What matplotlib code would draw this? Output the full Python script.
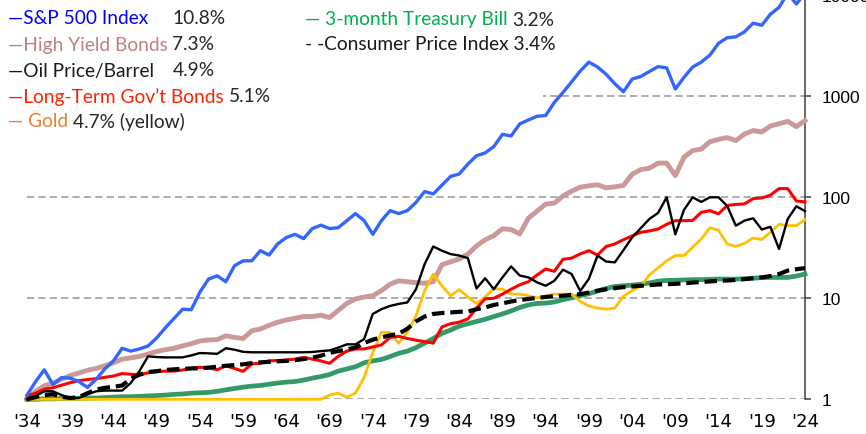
import matplotlib
matplotlib.use("Agg")
import matplotlib.pyplot as plt
from matplotlib.patches import Rectangle
from matplotlib.ticker import FixedLocator, NullLocator

# growth of $1 invested at the start of 1934
years = list(range(1934, 2025))

sp500 = [
    1.1, 1.5, 1.96, 1.4, 1.64, 1.62, 1.5, 1.31, 1.58, 2.0,
    2.4, 3.2, 3.0, 3.15, 3.37, 4.05, 5.1, 6.3, 7.8, 7.7,
    11.5, 15.5, 16.7, 14.6, 21, 23.5, 23.5, 29.6, 26.8, 34.6,
    40, 43, 39, 49, 53, 49, 50, 58.7, 69, 58.7,
    43, 58.7, 73.8, 69, 73.8, 89, 114, 108, 132, 161,
    170, 213, 258, 275, 318, 420, 405, 533, 583, 634,
    645, 870, 1090, 1390, 1780, 2180, 1950, 1650, 1330, 1110,
    1480, 1570, 1760, 1970, 1910, 1180, 1540, 1950, 2180, 2560,
    3350, 3800, 3880, 4350, 5300, 5050, 6500, 7600, 10500, 8200,
    10500,
]

high_yield = [
    1.0, 1.2, 1.36, 1.45, 1.58, 1.72, 1.82, 1.94, 2.02, 2.15,
    2.3, 2.5, 2.57, 2.66, 2.8, 2.98, 3.1, 3.2, 3.38, 3.55,
    3.78, 3.87, 3.9, 4.25, 4.1, 4.0, 4.77, 4.97, 5.4, 5.8,
    6.1, 6.35, 6.6, 6.6, 6.8, 6.45, 7.6, 8.9, 9.85, 10.3,
    10.6, 11.9, 13.8, 14.9, 14.6, 14.3, 14.1, 14.6, 21.5, 23.0,
    24.5, 27.4, 33, 38, 41.7, 48.8, 48, 43.3, 62, 73,
    85.6, 87.6, 103, 115, 126, 130, 133, 124, 127, 131,
    169, 188, 194, 218, 218, 164, 250, 290, 300, 355,
    375, 390, 364, 423, 458, 443, 509, 535, 565, 500,
    575,
]

oil = [
    1.0, 1.08, 1.2, 1.2, 1.1, 1.03, 1.03, 1.12, 1.2, 1.22,
    1.22, 1.22, 1.45, 1.9, 2.66, 2.62, 2.6, 2.6, 2.6, 2.72,
    2.87, 2.85, 2.82, 3.2, 3.1, 2.95, 2.92, 2.92, 2.92, 2.92,
    2.92, 2.92, 2.92, 2.94, 3.0, 3.05, 3.25, 3.5, 3.5, 3.95,
    7.0, 7.8, 8.4, 8.8, 9.1, 12.3, 21.8, 32.6, 29.6, 27.4,
    26.5, 25, 12.5, 15.8, 12.3, 16.1, 20.7, 16.8, 16.1, 14.4,
    13.3, 14.9, 19.2, 17.4, 11.8, 15.6, 26.5, 23.1, 22.7, 30,
    40, 49.5, 61, 70, 100, 43, 75, 100, 90, 100,
    100, 82, 52.4, 58.7, 62, 48, 51, 30.8, 61, 81.5,
    73,
]

lt_gov_bonds = [
    1.08, 1.15, 1.26, 1.3, 1.38, 1.46, 1.53, 1.57, 1.6, 1.65,
    1.7, 1.8, 1.77, 1.75, 1.83, 1.88, 1.9, 1.9, 1.95, 2.02,
    2.07, 2.05, 1.96, 2.15, 2.02, 1.89, 2.24, 2.28, 2.4, 2.42,
    2.45, 2.5, 2.6, 2.5, 2.4, 2.27, 2.66, 3.0, 3.15, 3.15,
    3.3, 3.45, 4.1, 4.2, 4.0, 3.85, 3.72, 3.6, 5.2, 5.6,
    5.8, 6.25, 8.0, 9.9, 10.0, 11.0, 12.3, 13.6, 14.6, 17.0,
    19.5, 18.5, 24.3, 25, 27.5, 29.6, 26.8, 32.6, 34.5, 38,
    41.5, 45, 46.5, 48.5, 54, 58.7, 58.7, 59, 71, 73.8,
    68.5, 83, 85, 86, 97, 98.5, 105, 122, 122, 92,
    90,
]

gold = [
    1.0, 1.0, 1.0, 1.0, 1.0, 1.0, 1.0, 1.0, 1.0, 1.0,
    1.0, 1.0, 1.0, 1.0, 1.0, 1.0, 1.0, 1.0, 1.0, 1.0,
    1.0, 1.0, 1.0, 1.0, 1.0, 1.0, 1.0, 1.0, 1.0, 1.0,
    1.0, 1.0, 1.0, 1.0, 1.0, 1.1, 1.15, 1.05, 1.15, 1.65,
    2.9, 4.6, 4.6, 3.6, 4.6, 6.7, 11.9, 17.4, 13.3, 10.6,
    12.2, 10.3, 8.9, 10.3, 12.5, 12.3, 11.0, 11.0, 10.6, 10.1,
    10.5, 11.0, 11.0, 11.0, 9.3, 8.4, 8.0, 7.8, 8.0, 10.5,
    11.9, 13.2, 17.0, 20, 23.5, 26.5, 26.5, 32, 38.6, 50,
    47, 34.5, 32.6, 35, 39.5, 38.2, 45, 54, 52.4, 52.4,
    60,
]

t_bill = [
    1.0, 1.0, 1.01, 1.01, 1.02, 1.02, 1.02, 1.03, 1.03, 1.04,
    1.05, 1.06, 1.06, 1.07, 1.08, 1.09, 1.1, 1.12, 1.13, 1.15,
    1.16, 1.17, 1.2, 1.24, 1.28, 1.32, 1.35, 1.37, 1.41, 1.45,
    1.48, 1.5, 1.55, 1.62, 1.68, 1.76, 1.9, 2.0, 2.1, 2.3,
    2.4, 2.48, 2.65, 2.85, 3.0, 3.25, 3.6, 4.0, 4.5, 4.85,
    5.3, 5.6, 5.9, 6.2, 6.6, 7.0, 7.5, 8.1, 8.6, 8.9,
    8.96, 9.2, 9.7, 10.1, 10.6, 11.1, 11.8, 12.5, 13.1, 13.3,
    13.5, 13.8, 14.2, 14.8, 15.0, 15.1, 15.2, 15.3, 15.3, 15.4,
    15.5, 15.5, 15.5, 15.6, 15.8, 16.0, 16.1, 16.1, 16.1, 16.6,
    17.4,
]

cpi = [
    1.0, 1.05, 1.1, 1.12, 1.06, 1.03, 1.05, 1.15, 1.25, 1.3,
    1.33, 1.37, 1.6, 1.75, 1.86, 1.9, 1.95, 1.98, 2.0, 2.02,
    2.03, 2.06, 2.1, 2.15, 2.18, 2.22, 2.28, 2.32, 2.35, 2.38,
    2.4, 2.44, 2.5, 2.58, 2.7, 2.88, 3.0, 3.12, 3.25, 3.6,
    3.9, 4.1, 4.3, 4.45, 5.0, 5.9, 6.6, 7.0, 7.15, 7.25,
    7.35, 7.4, 7.8, 8.1, 8.6, 8.9, 9.3, 9.6, 9.85, 10.1,
    10.3, 10.5, 10.6, 10.8, 11.0, 11.4, 11.9, 12.3, 12.6, 12.9,
    13.1, 13.3, 13.5, 13.7, 13.8, 13.9, 14.1, 14.3, 14.5, 14.7,
    14.9, 15.0, 15.2, 15.5, 15.8, 16.1, 16.6, 17.4, 18.8, 19.4,
    19.9,
]

tick_years = list(range(1934, 2025, 5))
tick_labels = ["'" + str(y)[2:] for y in tick_years]
y_ticks = [1, 10, 100, 1000, 10000]
y_labels = ["1", "10", "100", "1000", "10000"]

W, H = 866, 435


def fx(x):
    return x / W


def fy(y):
    return 1 - y / H


def main():
    fig = plt.figure(figsize=(W / 100, H / 100), dpi=100)
    ax = fig.add_axes([fx(27), fy(400.3), (805 - 27) / W, 404 / H])

    # bottom to top, thickest lines first
    ax.plot(years, high_yield, color='#CC9999', lw=3.5, zorder=3, clip_on=False)
    ax.plot(years, t_bill, color='#339966', lw=3.4, zorder=3, clip_on=False)
    ax.plot(years, gold, color='#FFC000', lw=2.0, zorder=4, clip_on=False)
    ax.plot(years, lt_gov_bonds, color='#FF0000', lw=2.2, zorder=4, clip_on=False)
    ax.plot(years, oil, color='#000000', lw=1.7, zorder=5, clip_on=False)
    ax.plot(years, cpi, color='#000000', lw=3.0, linestyle=(0, (3.0, 1.4)),
            zorder=5, clip_on=False)
    ax.plot(years, sp500, color='#3366FF', lw=2.4, zorder=6, clip_on=False)

    ax.set_yscale('log')
    ax.set_ylim(1, 10000)
    ax.set_xlim(1934, 2024)

    for side in ['left', 'top', 'bottom']:
        ax.spines[side].set_visible(False)
    ax.spines['right'].set_color('#404040')
    ax.spines['right'].set_linewidth(1.1)

    ax.yaxis.tick_right()
    ax.yaxis.set_major_locator(FixedLocator(y_ticks))
    ax.yaxis.set_minor_locator(NullLocator())
    ax.set_yticklabels(y_labels)
    ax.tick_params(axis='y', which='major', direction='out', length=4, width=1.1,
                   color='#404040', pad=8, labelsize=12.5, labelcolor='#000000')
    for lbl in ax.get_yticklabels():
        lbl.set_family('Liberation Sans')

    ax.set_xticks(tick_years)
    ax.set_xticklabels(tick_labels)
    ax.tick_params(axis='x', length=0, pad=9.5, labelsize=13, labelcolor='#000000')
    for lbl in ax.get_xticklabels():
        lbl.set_family('Liberation Sans Narrow')

    ax.grid(axis='y', which='major', color='#A6A6A6', linestyle=(0, (4, 2.3)), lw=1.3)
    ax.grid(axis='x', visible=False)
    ax.set_axisbelow(True)

    # white legend box hides the 1000 gridline behind the text
    box = Rectangle((0, fy(108)), fx(543), 1.0, transform=fig.transFigure,
                    facecolor='white', edgecolor='none', zorder=1, clip_on=False)
    ax.add_patch(box)

    # colored text legend in the top left corner
    fs = 13.8
    pct_color = '#262626'
    legend_font = 'Lato'

    def label(x, y, text, color):
        return fig.text(fx(x), fy(y), text, color=color, fontsize=fs,
                        family=legend_font, va='center', ha='left')

    def after(t, text, color=pct_color):
        ax.annotate(text, xy=(1, 0.5), xycoords=t, xytext=(3.5, 0),
                    textcoords='offset points', va='center', ha='left',
                    color=color, fontsize=fs, family=legend_font)

    label(8, 19, '\u2014S&P 500 Index', '#0000FF')
    label(172, 19, '10.8%', pct_color)
    label(8, 45, '\u2014High Yield Bonds', '#C08080')
    label(172, 45, '7.3%', pct_color)
    label(8, 71, '\u2014Oil Price/Barrel', '#1a1a1a')
    label(173, 71, '4.9%', pct_color)
    t = label(8, 97, '\u2014Long-Term Gov\u2019t Bonds', '#FF2200')
    after(t, '5.1%')
    t = label(8, 122, '\u2014 Gold', '#ED7D31')
    after(t, '4.7% (yellow)')

    t = label(305, 20, '\u2014 3-month Treasury Bill', '#00B050')
    after(t, '3.2%')
    label(305, 45, '- -Consumer Price Index 3.4%', '#1a1a1a')

    fig.savefig('out.png', dpi=100)


if __name__ == "__main__":
    main()
